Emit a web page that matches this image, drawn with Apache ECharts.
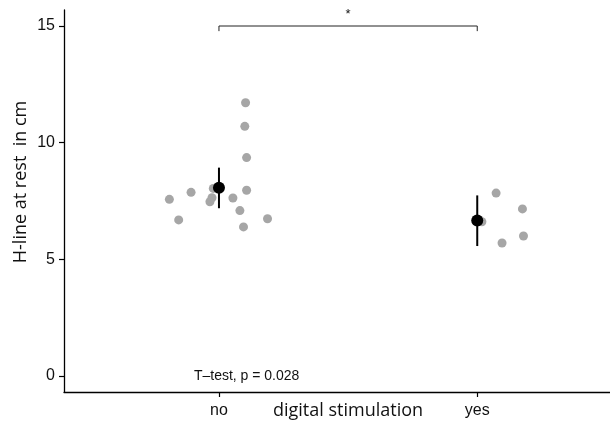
<!DOCTYPE html>
<html>
<head>
<meta charset="utf-8">
<script src="https://cdn.jsdelivr.net/npm/echarts@6/dist/echarts.min.js"></script>
<style>html,body{margin:0;padding:0;background:#fff;}#c{width:610px;height:423px;}</style>
</head>
<body>
<div id="c"></div>
<script>
var categories = ['no', 'yes'];
var yTicks = [0, 5, 10, 15];
// jittered individual observations (x = category position + jitter)
var noX = [1.103, 1.100, 1.107, 1.107, 0.892, 0.808, 1.054, 0.973, 0.965, 0.978, 1.081, 0.844, 1.188, 1.095];
var noY = [11.71, 10.70, 9.36, 7.96, 7.87, 7.57, 7.63, 7.64, 7.47, 8.04, 7.09, 6.69, 6.74, 6.39];
var yesX = [2.073, 2.175, 2.018, 2.179, 2.096];
var yesY = [7.84, 7.16, 6.61, 6.00, 5.70];
// group means and error bar limits
var meanX = [1, 2];
var meanY = [8.07, 6.66];
var errLow = [7.19, 5.57];
var errHigh = [8.93, 7.74];
// significance bracket
var bracketFrom = 1, bracketTo = 2, bracketY = 15, bracketTickY = 14.78;
var starLabel = '*';
var testLabel = 'T\u2013test, p = 0.028';
var xTitle = 'digital stimulation';
var yTitle = 'H-line at rest  in cm';

var chart = echarts.init(document.getElementById('c'), null, {renderer: 'canvas'});
var pts = [];
noX.forEach(function (x, i) { pts.push([x, noY[i]]); });
yesX.forEach(function (x, i) { pts.push([x, yesY[i]]); });

var option = {
  animation: false,
  backgroundColor: '#fff',
  grid: {left: 64, right: 0, top: 10, bottom: 31, outerBoundsMode: 'none', containLabel: false},
  xAxis: {
    type: 'value', min: 0.4, max: 2.514,
    splitLine: {show: false},
    axisLine: {show: true, onZero: false, lineStyle: {color: '#000', width: 1.3}},
    axisTick: {show: true, length: 5, lineStyle: {color: '#000', width: 1.2}, customValues: [1, 2]},
    axisLabel: {customValues: [1, 2], formatter: function (v) { return categories[Math.round(v) - 1]; },
      color: '#111', fontFamily: 'Liberation Sans', fontSize: 16, margin: 11}
  },
  yAxis: {
    type: 'value', min: -0.686, max: 15.686,
    splitLine: {show: false},
    axisLine: {show: true, onZero: false, lineStyle: {color: '#000', width: 1.3}},
    axisTick: {show: true, length: 5, lineStyle: {color: '#000', width: 1.2}, customValues: yTicks},
    axisLabel: {customValues: yTicks, color: '#111', fontFamily: 'Liberation Sans', fontSize: 16, margin: 9}
  },
  graphic: [{
    type: 'text', x: 21, y: 182, rotation: Math.PI / 2,
    style: {text: yTitle, fill: '#111', font: '18px "Open Sans"', align: 'center', verticalAlign: 'middle'}
  }, {
    type: 'text', x: 348, y: 411,
    style: {text: xTitle, fill: '#111', font: '18px "Open Sans"', align: 'center', verticalAlign: 'middle'}
  }],
  series: [
    {
      type: 'scatter', data: pts, symbolSize: 9,
      itemStyle: {color: '#a6a6a6', opacity: 1}, z: 2
    },
    {
      type: 'custom', z: 3,
      data: meanX.map(function (x, i) { return [x, errLow[i], errHigh[i]]; }),
      renderItem: function (params, api) {
        var a = api.coord([api.value(0), api.value(1)]);
        var b = api.coord([api.value(0), api.value(2)]);
        return {type: 'line', shape: {x1: a[0], y1: a[1], x2: b[0], y2: b[1]}, style: {stroke: '#000', lineWidth: 2}};
      }
    },
    {
      type: 'scatter', data: meanX.map(function (x, i) { return [x, meanY[i]]; }), symbolSize: 12,
      itemStyle: {color: '#000', opacity: 1}, z: 4
    },
    {
      type: 'custom', z: 3,
      data: [[bracketFrom, bracketTo, bracketY, bracketTickY]],
      renderItem: function (params, api) {
        var p1 = api.coord([api.value(0), api.value(2)]);
        var p2 = api.coord([api.value(1), api.value(2)]);
        var t1 = api.coord([api.value(0), api.value(3)]);
        var t2 = api.coord([api.value(1), api.value(3)]);
        var mid = api.coord([(api.value(0) + api.value(1)) / 2, api.value(2)]);
        return {type: 'group', children: [
          {type: 'polyline', shape: {points: [t1, p1, p2, t2]}, style: {stroke: '#222', lineWidth: 1, fill: null}},
          {type: 'text', x: mid[0], y: mid[1] - 5, style: {text: starLabel, fill: '#111', font: '13px "Liberation Sans"', align: 'center', verticalAlign: 'bottom'}}
        ]};
      }
    },
    {
      type: 'custom', z: 3,
      data: [[0.903, 0]],
      renderItem: function (params, api) {
        var p = api.coord([api.value(0), api.value(1)]);
        return {type: 'text', x: p[0], y: p[1], style: {text: testLabel, fill: '#111', font: '14px "Liberation Sans"', align: 'left', verticalAlign: 'middle'}};
      }
    }
  ]
};
chart.setOption(option);
</script>
</body>
</html>
